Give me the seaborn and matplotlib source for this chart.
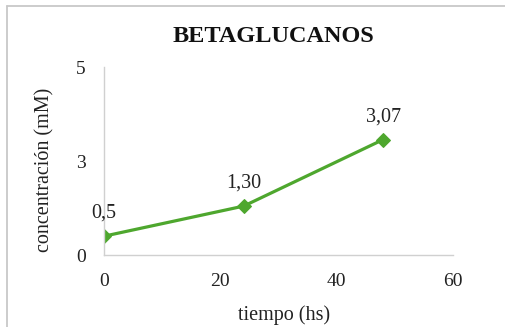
import matplotlib
matplotlib.use("Agg")
import matplotlib.pyplot as plt
import seaborn as sns
import pandas as pd
from matplotlib.lines import Line2D

# Data
tiempo = [0, 24, 48]
concentracion = [0.5, 1.30, 3.07]
etiquetas = ["0,5", "1,30", "3,07"]
x_ticks = [0, 20, 40, 60]
y_ticks = [0, 2.5, 5]
y_tick_labels = ["0", "3", "5"]

sns.set_theme(style="white")
plt.rcParams["font.family"] = ["Liberation Serif", "DejaVu Serif"]

df = pd.DataFrame({"tiempo": tiempo, "concentracion": concentracion})

fig = plt.figure(figsize=(5.06, 3.27), dpi=100)
ax = fig.add_axes([104 / 506, 1 - 255 / 327, (453 - 104) / 506, (255 - 67) / 327])

green = "#4ea72e"
sns.lineplot(data=df, x="tiempo", y="concentracion", ax=ax, color=green,
             linewidth=2.3, marker="D", markersize=7, markeredgecolor=green)

for x, y, t in zip(tiempo, concentracion, etiquetas):
    ax.annotate(t, (x, y), xytext=(0, 16.5), textcoords="offset points",
                ha="center", va="center", fontsize=14.5, color="#222222")

ax.set_xlim(0, 60)
ax.set_ylim(0, 5)
ax.set_xticks(x_ticks)
ax.set_xticklabels([str(v) for v in x_ticks])
ax.set_yticks(y_ticks)
ax.set_yticklabels(y_tick_labels)
ax.tick_params(axis="both", length=0, labelsize=14, colors="#222222")
ax.tick_params(axis="x", pad=13)
ax.tick_params(axis="y", pad=13)

for side in ["top", "right"]:
    ax.spines[side].set_visible(False)
for side in ["left", "bottom"]:
    ax.spines[side].set_color("#d0d0d0")
    ax.spines[side].set_linewidth(1.0)

ax.set_xlabel("tiempo (hs)", fontsize=14.5, color="#222222", va="center")
ax.set_ylabel("concentración (mM)", fontsize=14.5, color="#222222", va="center")
ax.xaxis.set_label_coords(0.516, -0.319)
ax.yaxis.set_label_coords(-0.169, 0.452)

fig.text(273 / 506, 1 - 37 / 327, "BETAGLUCANOS", ha="center", va="center",
         fontsize=17.5, fontweight="bold", color="#111111")

# Chart area border (left and top edges)
bx, by = 7.5 / 506, 1 - 5.5 / 327
fig.add_artist(Line2D([bx, bx], [0, by], transform=fig.transFigure,
                      color="#c8c8c8", linewidth=1.3))
fig.add_artist(Line2D([bx, 1], [by, by], transform=fig.transFigure,
                      color="#c8c8c8", linewidth=1.3))

fig.savefig("out.png", dpi=100)
